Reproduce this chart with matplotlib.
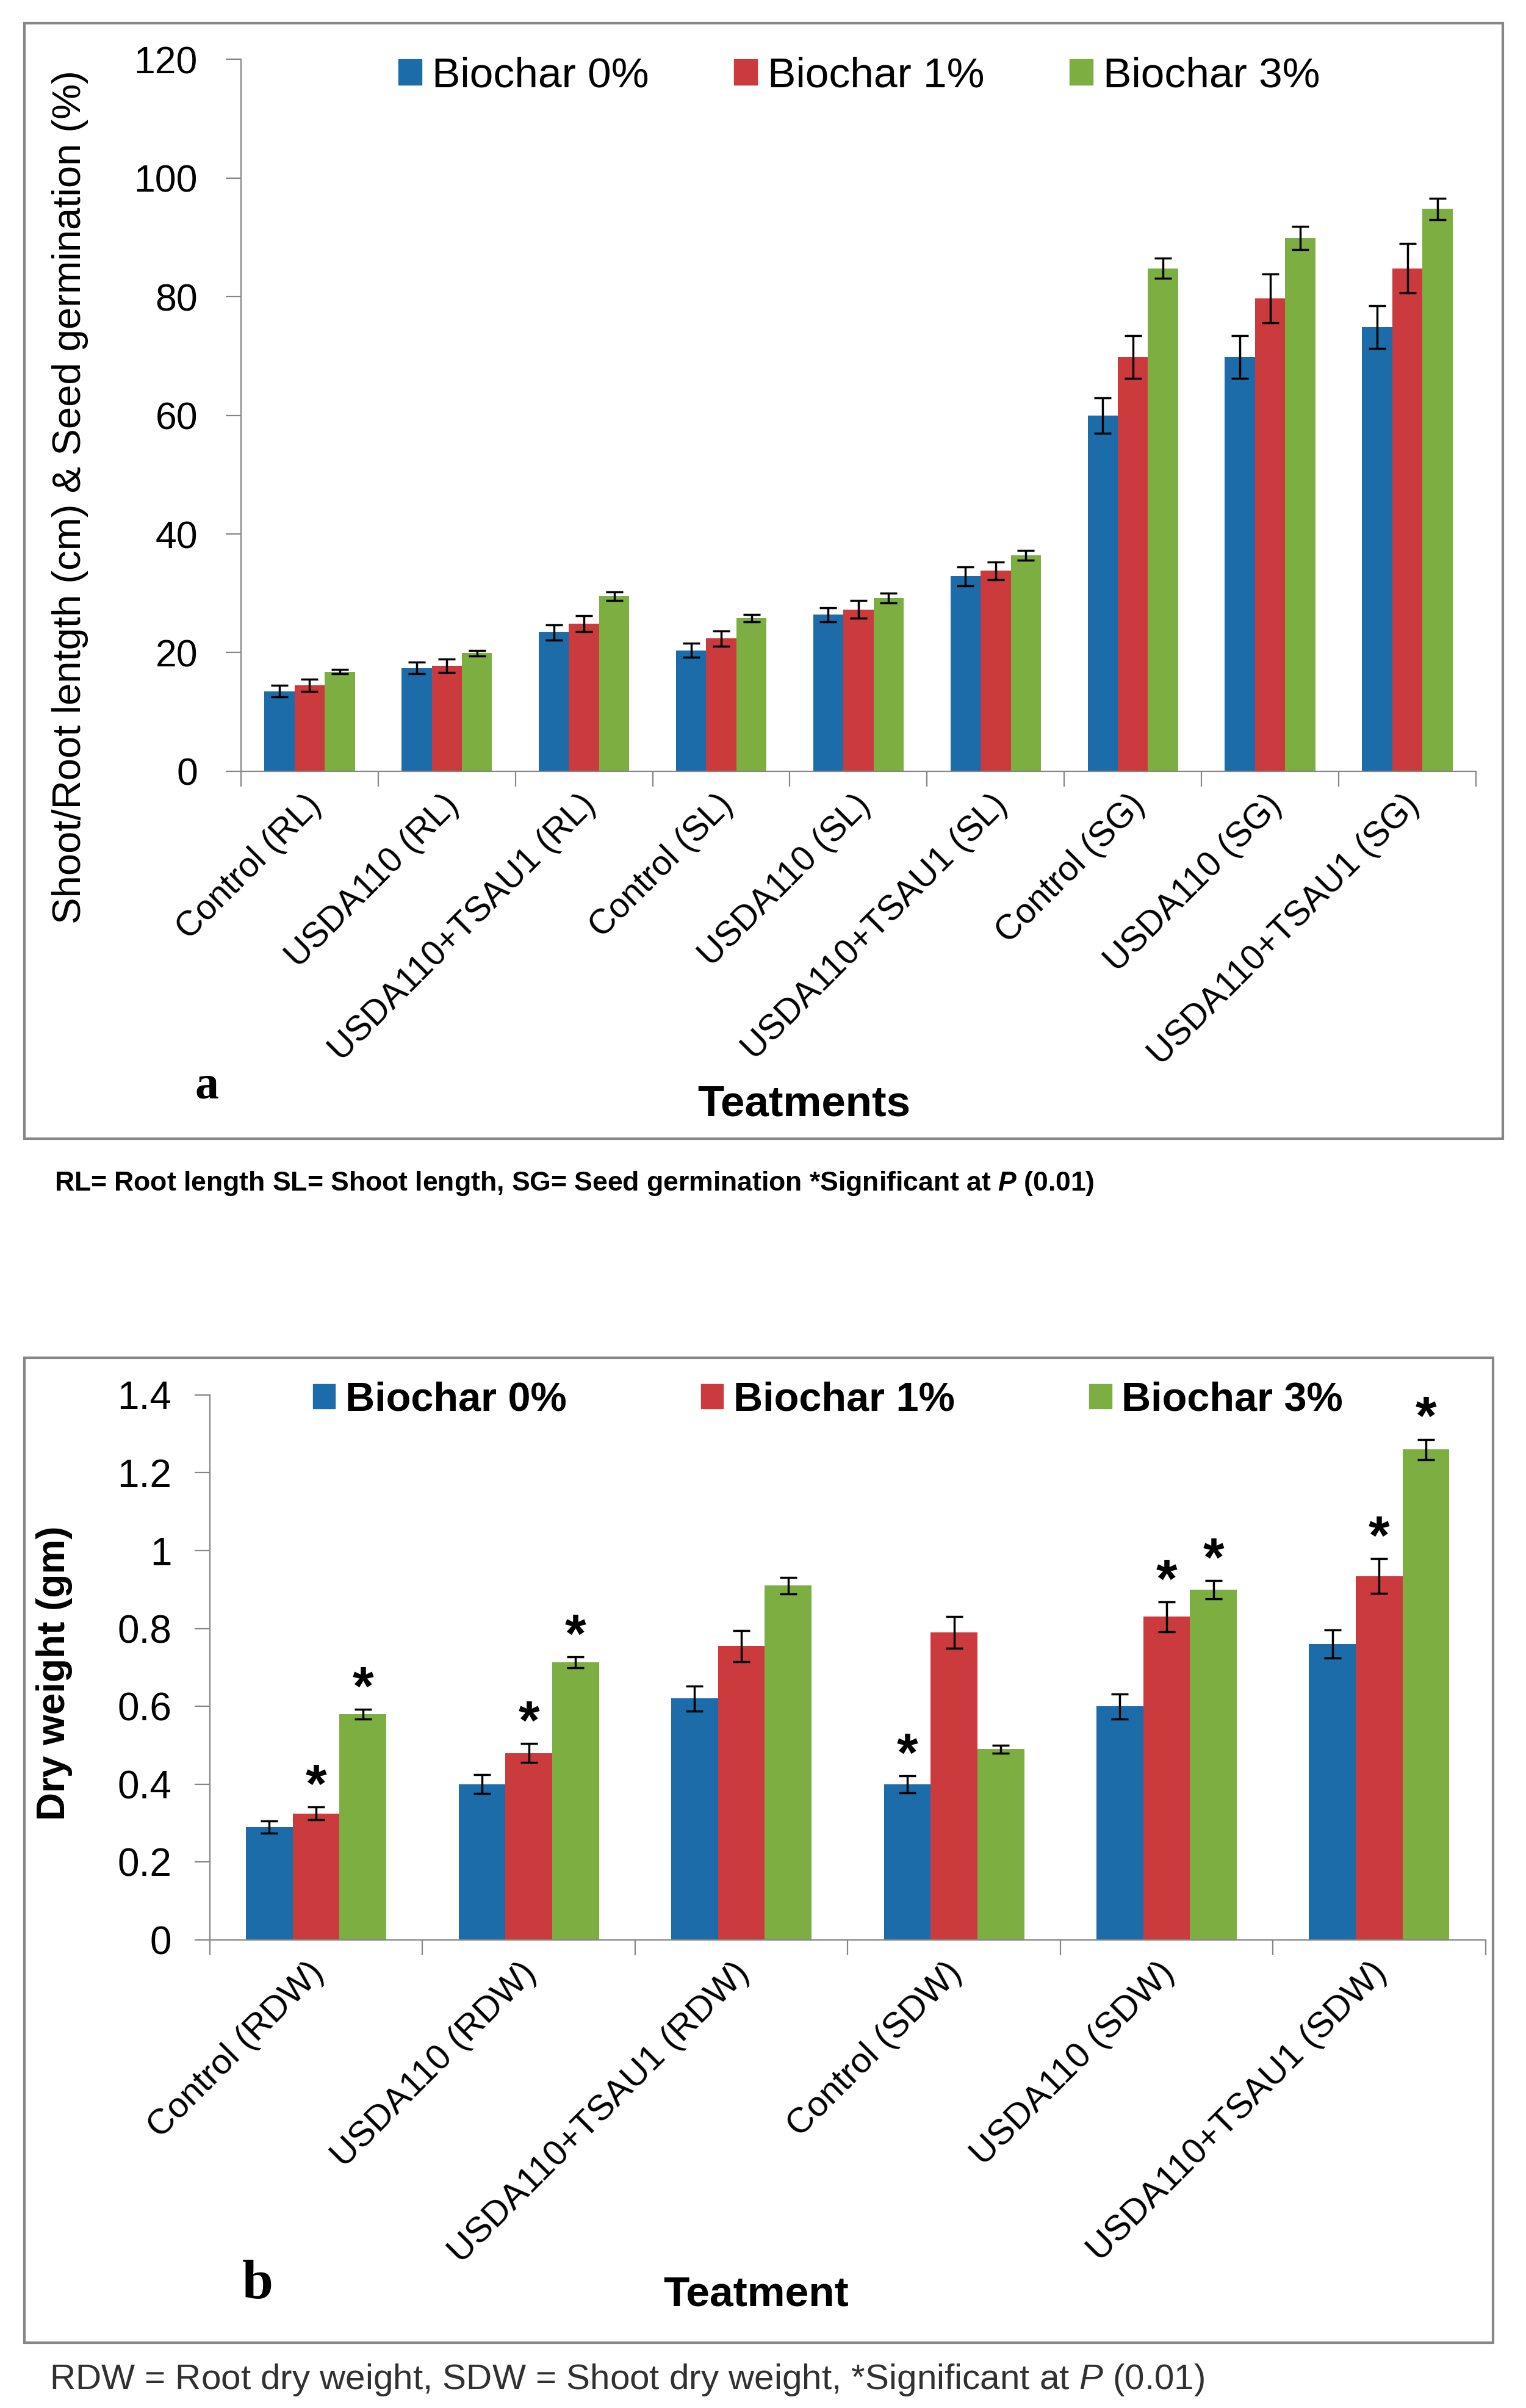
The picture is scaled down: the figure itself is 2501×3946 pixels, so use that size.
import matplotlib
matplotlib.use("Agg")
import matplotlib.pyplot as plt
import numpy as np
from matplotlib.patches import Patch, Rectangle
from matplotlib.transforms import ScaledTranslation

plt.rcParams['font.family'] = ['Liberation Sans', 'DejaVu Sans']
plt.rcParams['mathtext.fontset'] = 'custom'
plt.rcParams['mathtext.it'] = 'Liberation Sans:italic'
plt.rcParams['mathtext.bf'] = 'Liberation Sans:italic:bold'

# ---- data, panel a ----
cats_a = ['Control (RL)', 'USDA110 (RL)', 'USDA110+TSAU1 (RL)',
          'Control (SL)', 'USDA110 (SL)', 'USDA110+TSAU1 (SL)',
          'Control (SG)', 'USDA110 (SG)', 'USDA110+TSAU1 (SG)']
a_b0 = [13.5, 17.4, 23.4, 20.4, 26.4, 32.9, 60.0, 69.8, 74.9]
a_b1 = [14.5, 17.8, 24.9, 22.4, 27.3, 33.8, 69.8, 79.7, 84.8]
a_b3 = [16.8, 19.9, 29.5, 25.8, 29.2, 36.4, 84.8, 89.9, 94.8]
a_e0 = [1.0, 1.0, 1.3, 1.2, 1.2, 1.6, 3.0, 3.6, 3.6]
a_e1 = [1.0, 1.1, 1.3, 1.3, 1.5, 1.5, 3.6, 4.1, 4.2]
a_e3 = [0.4, 0.5, 0.7, 0.6, 0.8, 0.8, 1.7, 2.0, 1.8]

# ---- data, panel b ----
cats_b = ['Control (RDW)', 'USDA110 (RDW)', 'USDA110+TSAU1 (RDW)',
          'Control (SDW)', 'USDA110 (SDW)', 'USDA110+TSAU1 (SDW)']
b_b0 = [0.29, 0.40, 0.62, 0.40, 0.60, 0.76]
b_b1 = [0.325, 0.48, 0.755, 0.79, 0.83, 0.935]
b_b3 = [0.58, 0.713, 0.91, 0.49, 0.90, 1.26]
b_e0 = [0.016, 0.024, 0.032, 0.022, 0.032, 0.036]
b_e1 = [0.017, 0.024, 0.040, 0.040, 0.038, 0.044]
b_e3 = [0.013, 0.014, 0.021, 0.010, 0.023, 0.026]
b_sig0 = [0, 0, 0, 1, 0, 0]
b_sig1 = [1, 1, 0, 0, 1, 1]
b_sig3 = [1, 1, 0, 0, 1, 1]

series = ['Biochar 0%', 'Biochar 1%', 'Biochar 3%']
colors = ['#1B6CA8', '#CB3B3E', '#7DAE42']
grey = '#868686'

fig = plt.figure(figsize=(25.01, 39.46), dpi=100)

# outer frames
fig.patches.append(Rectangle((0.016, 0.5271), 0.9688, 0.4633, transform=fig.transFigure,
                             fill=False, edgecolor=grey, lw=3))
fig.patches.append(Rectangle((0.016, 0.0271), 0.9624, 0.409, transform=fig.transFigure,
                             fill=False, edgecolor=grey, lw=3))


def draw_panel(ax, cats, vals, errs, bw, lab_size, lab_dx, lab_pad):
    x = np.arange(len(cats))
    for k in range(3):
        ax.bar(x + (k - 1) * bw, vals[k], bw, color=colors[k], zorder=2)
        ax.errorbar(x + (k - 1) * bw, vals[k], yerr=errs[k], fmt='none', ecolor='black',
                    elinewidth=2.5, capsize=10, capthick=2.5, zorder=3)
    ax.set_xlim(-0.5, len(cats) - 0.5)
    for s in ['top', 'right']:
        ax.spines[s].set_visible(False)
    for s in ['left', 'bottom']:
        ax.spines[s].set_color(grey)
        ax.spines[s].set_linewidth(1.6)
    ax.set_xticks(x)
    ax.set_xticklabels(cats, rotation=45, ha='right', va='center',
                       rotation_mode='anchor', fontsize=lab_size)
    ax.set_xticks(np.arange(len(cats) + 1) - 0.5, minor=True)
    ax.tick_params(axis='x', which='major', length=0, pad=lab_pad)
    ax.tick_params(axis='x', which='minor', length=18, width=1.6, color=grey, direction='out')
    ax.tick_params(axis='y', length=18, width=1.6, color=grey, direction='out')
    off = ScaledTranslation(lab_dx / 72, 0, fig.dpi_scale_trans)
    for t in ax.get_xticklabels():
        t.set_transform(t.get_transform() + off)
    return x


# ---------------- panel a ----------------
ax1 = fig.add_axes([0.1579, 0.6797, 0.8093, 0.2956])
draw_panel(ax1, cats_a, [a_b0, a_b1, a_b3], [a_e0, a_e1, a_e3], 0.22, 41, 8, 34)
ax1.set_ylim(0, 120)
ax1.set_yticks(np.arange(0, 121, 20))
ax1.tick_params(axis='y', labelsize=45, pad=33)

handles = [Patch(color=c) for c in colors]
ax1.legend(handles, series, ncol=3, frameon=False, fontsize=50, loc='center left',
           bbox_to_anchor=(0.261, 0.9685), bbox_transform=fig.transFigure,
           borderpad=0, borderaxespad=0, handlelength=0.55, handleheight=0.55,
           handletextpad=0.25, columnspacing=2.0)

fig.text(0.046, 0.7935, 'Shoot/Root lentgth (cm) & Seed germination (%)',
         rotation=90, ha='center', va='center', fontsize=47)
fig.text(0.527, 0.5413, 'Teatments', ha='center', va='center', fontsize=51, fontweight='bold')
fig.text(0.1355, 0.5487, 'a', ha='center', va='center', fontsize=56, fontweight='bold',
         family='Liberation Serif')
fig.text(0.0356, 0.5086,
         r'RL= Root length SL= Shoot length, SG= Seed germination *Significant at $\mathbf{P}$ (0.01)',
         ha='left', va='center', fontsize=32, fontweight='bold')

# ---------------- panel b ----------------
ax2 = fig.add_axes([0.1375, 0.1944, 0.836, 0.2263])
xb = draw_panel(ax2, cats_b, [b_b0, b_b1, b_b3], [b_e0, b_e1, b_e3], 0.22, 42, 3, 33)
ax2.set_ylim(0, 1.4)
ax2.set_yticks(np.arange(0, 1.41, 0.2))
ax2.set_yticklabels(['%g' % round(v, 1) for v in np.arange(0, 1.41, 0.2)])
ax2.tick_params(axis='y', labelsize=46, pad=27)

for k, (vals, errs, sig) in enumerate(zip([b_b0, b_b1, b_b3], [b_e0, b_e1, b_e3],
                                          [b_sig0, b_sig1, b_sig3])):
    for i in range(len(cats_b)):
        if sig[i]:
            ax2.annotate('*', xy=(xb[i] + (k - 1) * 0.22, vals[i] + errs[i]),
                         xytext=(0, 6), textcoords='offset points',
                         ha='center', va='baseline', fontsize=64, fontweight='bold')

ax2.legend(handles, series, ncol=3, frameon=False, loc='center left',
           bbox_to_anchor=(0.205, 0.4184), bbox_transform=fig.transFigure,
           borderpad=0, borderaxespad=0, handlelength=0.55, handleheight=0.55,
           handletextpad=0.25, columnspacing=3.3, prop={'size': 48, 'weight': 'bold'})

fig.text(0.0356, 0.3051, 'Dry weight (gm)', rotation=90, ha='center', va='center',
         fontsize=46, fontweight='bold')
fig.text(0.4954, 0.0471, 'Teatment', ha='center', va='center', fontsize=50, fontweight='bold')
fig.text(0.169, 0.0512, 'b', ha='center', va='center', fontsize=66, fontweight='bold',
         family='Liberation Serif')
fig.text(0.0324, 0.01166,
         r'RDW = Root dry weight, SDW = Shoot dry weight, *Significant at $\mathit{P}$ (0.01)',
         ha='left', va='center', fontsize=42, color='#303030')

fig.savefig('out.png', dpi=100)
